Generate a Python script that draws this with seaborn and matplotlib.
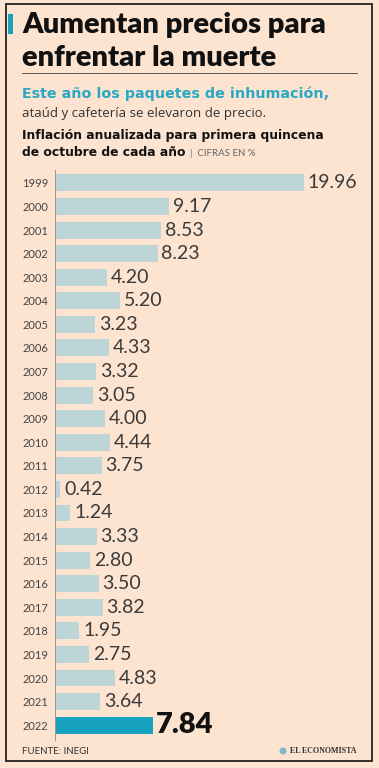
import matplotlib.pyplot as plt
import matplotlib.patches as mpatches
import seaborn as sns
import pandas as pd

# Data
years = ["1999", "2000", "2001", "2002", "2003", "2004", "2005", "2006", "2007", "2008",
         "2009", "2010", "2011", "2012", "2013", "2014", "2015", "2016", "2017", "2018",
         "2019", "2020", "2021", "2022"]
values = [19.96, 9.17, 8.53, 8.23, 4.20, 5.20, 3.23, 4.33, 3.32, 3.05,
          4.00, 4.44, 3.75, 0.42, 1.24, 3.33, 2.80, 3.50, 3.82, 1.95,
          2.75, 4.83, 3.64, 7.84]
highlight_year = "2022"

bg = "#fde4d1"
bar_color = "#bdd5d7"
hi_color = "#17a2c0"

df = pd.DataFrame({"year": years, "value": values})
colors = [hi_color if y == highlight_year else bar_color for y in years]

sns.set_style("white")
plt.rcParams['font.family'] = ['Lato', 'DejaVu Sans']

fig = plt.figure(figsize=(3.79, 7.68), dpi=100)
fig.patch.set_facecolor(bg)

# frame
fig.patches.append(mpatches.Rectangle((6 / 379, 7 / 768), 366 / 379, 757 / 768, transform=fig.transFigure,
                                      fill=False, edgecolor="#222222", linewidth=1.3))
# blue accent
fig.patches.append(mpatches.Rectangle((8 / 379, 1 - 34 / 768), 5 / 379, 20 / 768, transform=fig.transFigure,
                                      facecolor=hi_color, edgecolor="none"))

fig.text(22 / 379, 1 - 25 / 768, "Aumentan precios para", fontsize=21, fontweight="heavy",
         color="#111111", va="center", ha="left")
fig.text(22 / 379, 1 - 58 / 768, "enfrentar la muerte", fontsize=21, fontweight="heavy",
         color="#111111", va="center", ha="left")
fig.add_artist(plt.Line2D([22 / 379, 357 / 379], [1 - 73 / 768, 1 - 73 / 768], color="#555555", linewidth=0.7))

fig.text(22 / 379, 1 - 94 / 768, "Este año los paquetes de inhumación,", fontsize=10.3, fontweight="bold",
         family="DejaVu Sans", color="#29a8c5", va="center", ha="left")
fig.text(22 / 379, 1 - 113 / 768, "ataúd y cafetería se elevaron de precio.", fontsize=9.5,
         family="Open Sans", color="#333333", va="center", ha="left")
fig.text(22 / 379, 1 - 135 / 768, "Inflación anualizada para primera quincena", fontsize=8.9, fontweight="bold",
         family="DejaVu Sans", color="#111111", va="center", ha="left")
t = fig.text(22 / 379, 1 - 153 / 768, "de octubre de cada año", fontsize=8.9, fontweight="bold",
             family="DejaVu Sans", color="#111111", va="center", ha="left")
fig.canvas.draw()
bb = t.get_window_extent().transformed(fig.transFigure.inverted())
fig.text(bb.x1 + 5 / 379, 1 - 153 / 768, "|  CIFRAS EN %", fontsize=7, color="#666666", va="center", ha="left")

ax = fig.add_axes([55 / 379, 1 - 740 / 768, 310 / 379, 570 / 768])
ax.set_facecolor(bg)
sns.barplot(data=df, x="value", y="year", hue="year", palette=colors, legend=False,
            orient="h", width=0.72, ax=ax, saturation=1, edgecolor="none", linewidth=0)

for i, (y, v) in enumerate(zip(years, values)):
    if y == highlight_year:
        ax.text(v + 0.25, i, f"{v:.2f}", va="center", ha="left", fontsize=21, fontweight="heavy",
                color="#111111")
    else:
        ax.text(v + 0.3, i, f"{v:.2f}", va="center", ha="left", fontsize=14, fontweight="normal",
                color="#3a3a3a")

ax.set_xlim(0, 310 / 12.47)
ax.set_ylim(23.63, -0.55)
ax.set_xlabel("")
ax.set_ylabel("")
ax.set_xticks([])
ax.tick_params(axis="y", length=0, pad=5, labelsize=8, labelcolor="#444444")
for s in ["top", "right", "bottom"]:
    ax.spines[s].set_visible(False)
ax.spines["left"].set_color("#999999")
ax.spines["left"].set_linewidth(0.8)

fig.text(22 / 379, 1 - 751 / 768, "FUENTE: INEGI", fontsize=7, color="#333333", va="center", ha="left")
fig.patches.append(mpatches.Circle((2.83, (768 - 751) / 100), 0.035, transform=fig.dpi_scale_trans,
                                   facecolor="#7fb8cc", edgecolor="none"))
fig.text(357 / 379, 1 - 751 / 768, "EL ECONOMISTA", fontsize=5.8, fontweight="bold", family="Liberation Serif",
         color="#333333", va="center", ha="right")

plt.savefig("out.png", dpi=100, facecolor=bg)
